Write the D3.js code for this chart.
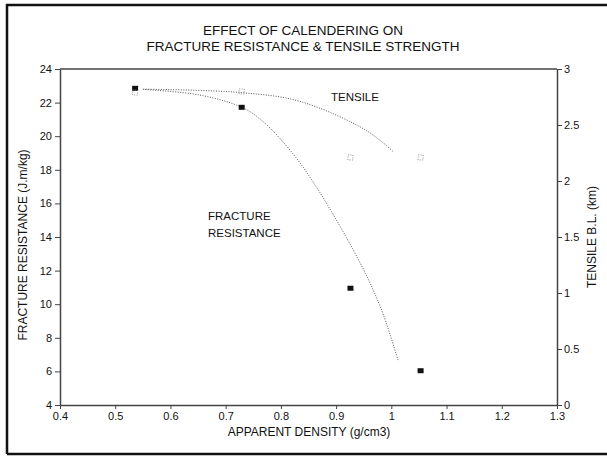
<!DOCTYPE html>
<html lang="en">
<head>
<meta charset="UTF-8">
<title>Effect of calendering</title>
<script src="https://cdn.jsdelivr.net/npm/d3@7"></script>
<style>
  body { margin: 0; background: #fff; }
  svg { font-family: "Liberation Sans", Arial, sans-serif; }
</style>
</head>
<body>
<svg></svg>
<script>
// measured points
var fractureX = [0.536, 0.729, 0.926, 1.053];
var fractureY = [22.85, 21.72, 10.95, 6.04];
var tensileX = [0.536, 0.729, 0.926, 1.053];
var tensileY = [2.79, 2.80, 2.21, 2.21];

// fitted curves (dotted)
var fracCurveX = [0.550, 0.653, 0.729, 0.768, 0.835, 0.931, 0.980, 1.013];
var fracCurveY = [22.79, 22.45, 21.72, 20.86, 18.39, 13.23, 9.85, 6.58];
var tensCurveX = [0.551, 0.726, 0.835, 0.955, 1.004];
var tensCurveY = [2.82, 2.79, 2.71, 2.45, 2.26];

var xTicks = [0.4, 0.5, 0.6, 0.7, 0.8, 0.9, 1, 1.1, 1.2, 1.3];
var yLeftTicks = [4, 6, 8, 10, 12, 14, 16, 18, 20, 22, 24];
var yRightTicks = [0, 0.5, 1, 1.5, 2, 2.5, 3];

var W = 607, H = 457;
var svg = d3.select('svg').attr('width', W).attr('height', H);

var x = d3.scaleLinear().domain([0.4, 1.3]).range([60, 557]);
var yL = d3.scaleLinear().domain([4, 24]).range([405, 69]);
var yR = d3.scaleLinear().domain([0, 3]).range([405, 69]);

// frame
svg.append('path')
  .attr('d', 'M7,454 L7,5 L607,5 M7,454 L607,454')
  .attr('fill', 'none')
  .attr('stroke', '#111')
  .attr('stroke-width', 2.5);

// title
svg.append('text').attr('x', 303).attr('y', 35).attr('text-anchor', 'middle')
  .attr('font-size', 13.5).attr('fill', '#111').text('EFFECT OF CALENDERING ON');
svg.append('text').attr('x', 303).attr('y', 51).attr('text-anchor', 'middle')
  .attr('font-size', 13.5).attr('fill', '#111').text('FRACTURE RESISTANCE & TENSILE STRENGTH');

function styleAxis(g) {
  g.selectAll('path').attr('stroke', '#444').attr('stroke-width', 1.5);
  g.selectAll('line').attr('stroke', '#444');
  g.selectAll('text').attr('font-size', 11).attr('fill', '#111')
    .attr('font-family', '"Liberation Sans", Arial, sans-serif');
}

svg.append('g')
  .attr('transform', 'translate(0,405)')
  .call(d3.axisBottom(x).tickValues(xTicks).tickFormat(d3.format('')).tickSize(4).tickSizeOuter(0).tickPadding(3))
  .call(styleAxis);

svg.append('g')
  .attr('transform', 'translate(60,0)')
  .call(d3.axisLeft(yL).tickValues(yLeftTicks).tickSize(5).tickSizeOuter(0).tickPadding(3))
  .call(styleAxis);

svg.append('g')
  .attr('transform', 'translate(557,0)')
  .call(d3.axisRight(yR).tickValues(yRightTicks).tickFormat(d3.format('')).tickSize(5).tickSizeOuter(0).tickPadding(2))
  .call(styleAxis);

// top border of plot
svg.append('line')
  .attr('x1', x(0.4)).attr('x2', x(1.3))
  .attr('y1', yL(24)).attr('y2', yL(24))
  .attr('stroke', '#444').attr('stroke-width', 1.5);

// axis titles
svg.append('text').attr('x', 309).attr('y', 436).attr('text-anchor', 'middle')
  .attr('font-size', 12).attr('fill', '#111').text('APPARENT DENSITY (g/cm3)');
svg.append('text').attr('transform', 'translate(27,245) rotate(-90)').attr('text-anchor', 'middle')
  .attr('font-size', 12).attr('fill', '#111').text('FRACTURE RESISTANCE (J.m/kg)');
svg.append('text').attr('transform', 'translate(596,237) rotate(-90)').attr('text-anchor', 'middle')
  .attr('font-size', 12).attr('fill', '#111').text('TENSILE B.L. (km)');

// curves
var fracLine = d3.line().curve(d3.curveCatmullRom)
  .x(function(d, i) { return x(fracCurveX[i]); })
  .y(function(d) { return yL(d); });
var tensLine = d3.line().curve(d3.curveCatmullRom)
  .x(function(d, i) { return x(tensCurveX[i]); })
  .y(function(d) { return yR(d); });

svg.append('path').datum(fracCurveY)
  .attr('d', fracLine).attr('fill', 'none')
  .attr('stroke', '#555').attr('stroke-width', 1).attr('stroke-dasharray', '1,1.5');
svg.append('path').datum(tensCurveY)
  .attr('d', tensLine).attr('fill', 'none')
  .attr('stroke', '#555').attr('stroke-width', 1).attr('stroke-dasharray', '1,1.5');

// markers
svg.selectAll('.frac').data(fractureY).enter().append('rect')
  .attr('x', function(d, i) { return x(fractureX[i]) - 3; })
  .attr('y', function(d) { return yL(d) - 2.5; })
  .attr('width', 6).attr('height', 5)
  .attr('fill', '#111');

svg.selectAll('.tens').data(tensileY).enter().append('rect')
  .attr('x', function(d, i) { return x(tensileX[i]) - 2.5; })
  .attr('y', function(d) { return yR(d) - 2.5; })
  .attr('width', 5).attr('height', 5)
  .attr('fill', 'none').attr('stroke', '#777').attr('stroke-width', 0.8)
  .attr('stroke-dasharray', '1,1.5');

// series labels
svg.append('text').attr('x', 331).attr('y', 101).attr('font-size', 11.5)
  .attr('fill', '#111').text('TENSILE');
svg.append('text').attr('x', 208).attr('y', 220).attr('font-size', 11.5)
  .attr('fill', '#111').text('FRACTURE');
svg.append('text').attr('x', 208).attr('y', 237).attr('font-size', 11.5)
  .attr('fill', '#111').text('RESISTANCE');
</script>
</body>
</html>
